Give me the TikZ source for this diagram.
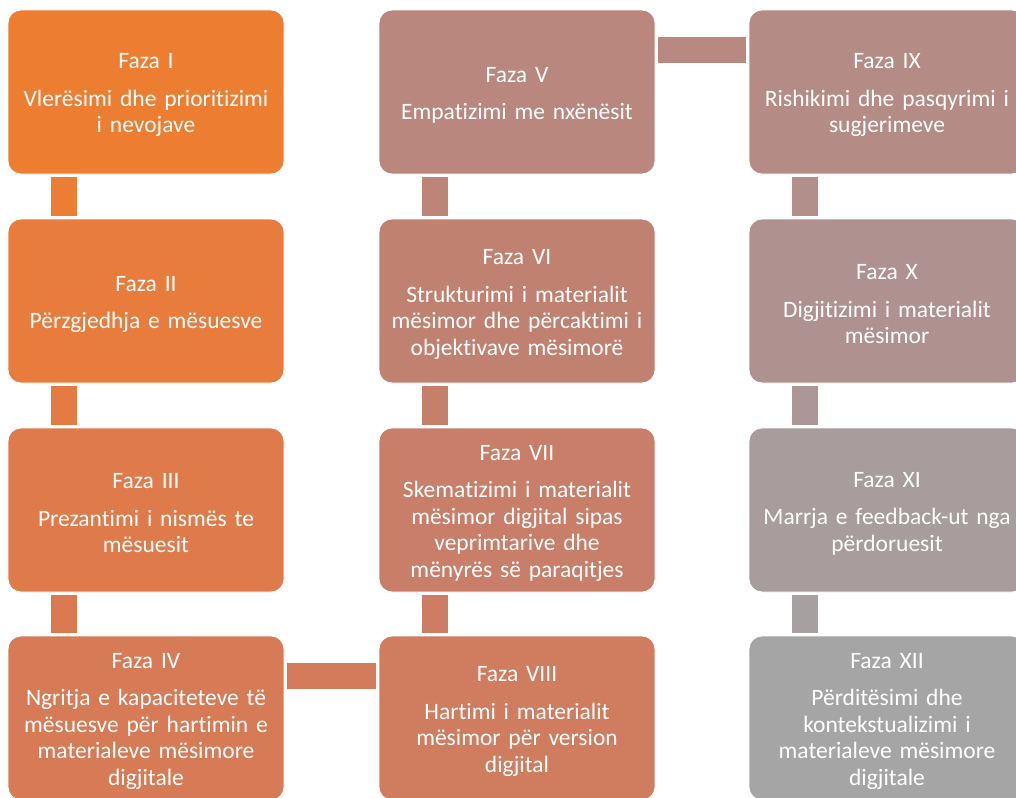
\documentclass[tikz,border=0pt]{standalone}
\usepackage{fontspec}
\setmainfont{Carlito}[Ligatures=NoCommon]
\definecolor{cI}{HTML}{ED7D31}
\definecolor{cII}{HTML}{E77C3C}
\definecolor{cIII}{HTML}{DF7B4A}
\definecolor{cIV}{HTML}{D77A56}
\definecolor{cVIII}{HTML}{D07C5F}
\definecolor{cVII}{HTML}{C87E68}
\definecolor{cVI}{HTML}{C18170}
\definecolor{cV}{HTML}{BA877E}
\definecolor{cIX}{HTML}{B58B86}
\definecolor{cX}{HTML}{AF9290}
\definecolor{cXI}{HTML}{A89C9C}
\definecolor{cXII}{HTML}{A5A5A5}
\tikzset{
  phasebox/.style={rounded corners=13pt, minimum width=276pt, minimum height=164pt,
    text width=272pt, align=center, text=white, draw=white, line width=0.8pt,
    inner sep=0pt, font=\fontsize{23.5}{26.5}\selectfont},
}
\newcommand\vlinkbar[3]{\fill[#3] ([xshift=43pt,yshift=-3pt]#1.south west) rectangle ([xshift=69pt,yshift=3pt]#2.north west);}
\newcommand\hlinkbar[3]{\fill[#3] ([xshift=3pt,yshift=-27pt]#1.north east) rectangle ([xshift=-3pt,yshift=-53pt]#2.north west);}
\newcommand\ttl[1]{\rule{0pt}{22pt}#1\\[11pt]}
\begin{document}
\begin{tikzpicture}[x=1pt,y=1pt]
\useasboundingbox (0,0) rectangle (1016,-797);
\clip (0,0) rectangle (1016,-797);
% column 1
\node[phasebox, fill=cI]   (p1) at (146,-92)  {\ttl{Faza I}Vlerësimi dhe prioritizimi\\i nevojave};
\node[phasebox, fill=cII]  (p2) at (146,-301) {\ttl{Faza II}Përzgjedhja e mësuesve};
\node[phasebox, fill=cIII] (p3) at (146,-510) {\ttl{Faza III}Prezantimi i nismës te\\mësuesit};
\node[phasebox, fill=cIV]  (p4) at (146,-718) {\ttl{Faza IV}Ngritja e kapaciteteve të\\mësuesve për hartimin e\\materialeve mësimore\\digjitale};
% column 2
\node[phasebox, fill=cV]    (p5) at (517,-92)  {\ttl{Faza V}Empatizimi me nxënësit};
\node[phasebox, fill=cVI]   (p6) at (517,-301) {\ttl{Faza VI}Strukturimi i materialit\\mësimor dhe përcaktimi i\\objektivave mësimorë};
\node[phasebox, fill=cVII]  (p7) at (517,-510) {\ttl{Faza VII}Skematizimi i materialit\\mësimor digjital sipas\\veprimtarive dhe\\mënyrës së paraqitjes};
\node[phasebox, fill=cVIII] (p8) at (517,-718) {\ttl{Faza VIII}Hartimi i materialit\\mësimor për version\\digjital};
% column 3
\node[phasebox, fill=cIX]  (p9)  at (887,-92)  {\ttl{Faza IX}Rishikimi dhe pasqyrimi i\\sugjerimeve};
\node[phasebox, fill=cX]   (p10) at (887,-301) {\ttl{Faza X}Digjitizimi i materialit\\mësimor};
\node[phasebox, fill=cXI]  (p11) at (887,-510) {\ttl{Faza XI}Marrja e feedback-ut nga\\përdoruesit};
\node[phasebox, fill=cXII] (p12) at (887,-718) {\ttl{Faza XII}Përditësimi dhe\\kontekstualizimi i\\materialeve mësimore\\digjitale};
% connectors
\vlinkbar{p1}{p2}{cI!70!cII}
\vlinkbar{p2}{p3}{cII!50!cIII}
\vlinkbar{p3}{p4}{cIII!50!cIV}
\hlinkbar{p4}{p8}{cIV!40!cVIII}
\vlinkbar{p7}{p8}{cVII!40!cVIII}
\vlinkbar{p6}{p7}{cVI!50!cVII}
\vlinkbar{p5}{p6}{cV!50!cVI}
\hlinkbar{p5}{p9}{cV!60!cIX}
\vlinkbar{p9}{p10}{cIX!50!cX}
\vlinkbar{p10}{p11}{cX!50!cXI}
\vlinkbar{p11}{p12}{cXI!50!cXII}
\end{tikzpicture}
\end{document}
